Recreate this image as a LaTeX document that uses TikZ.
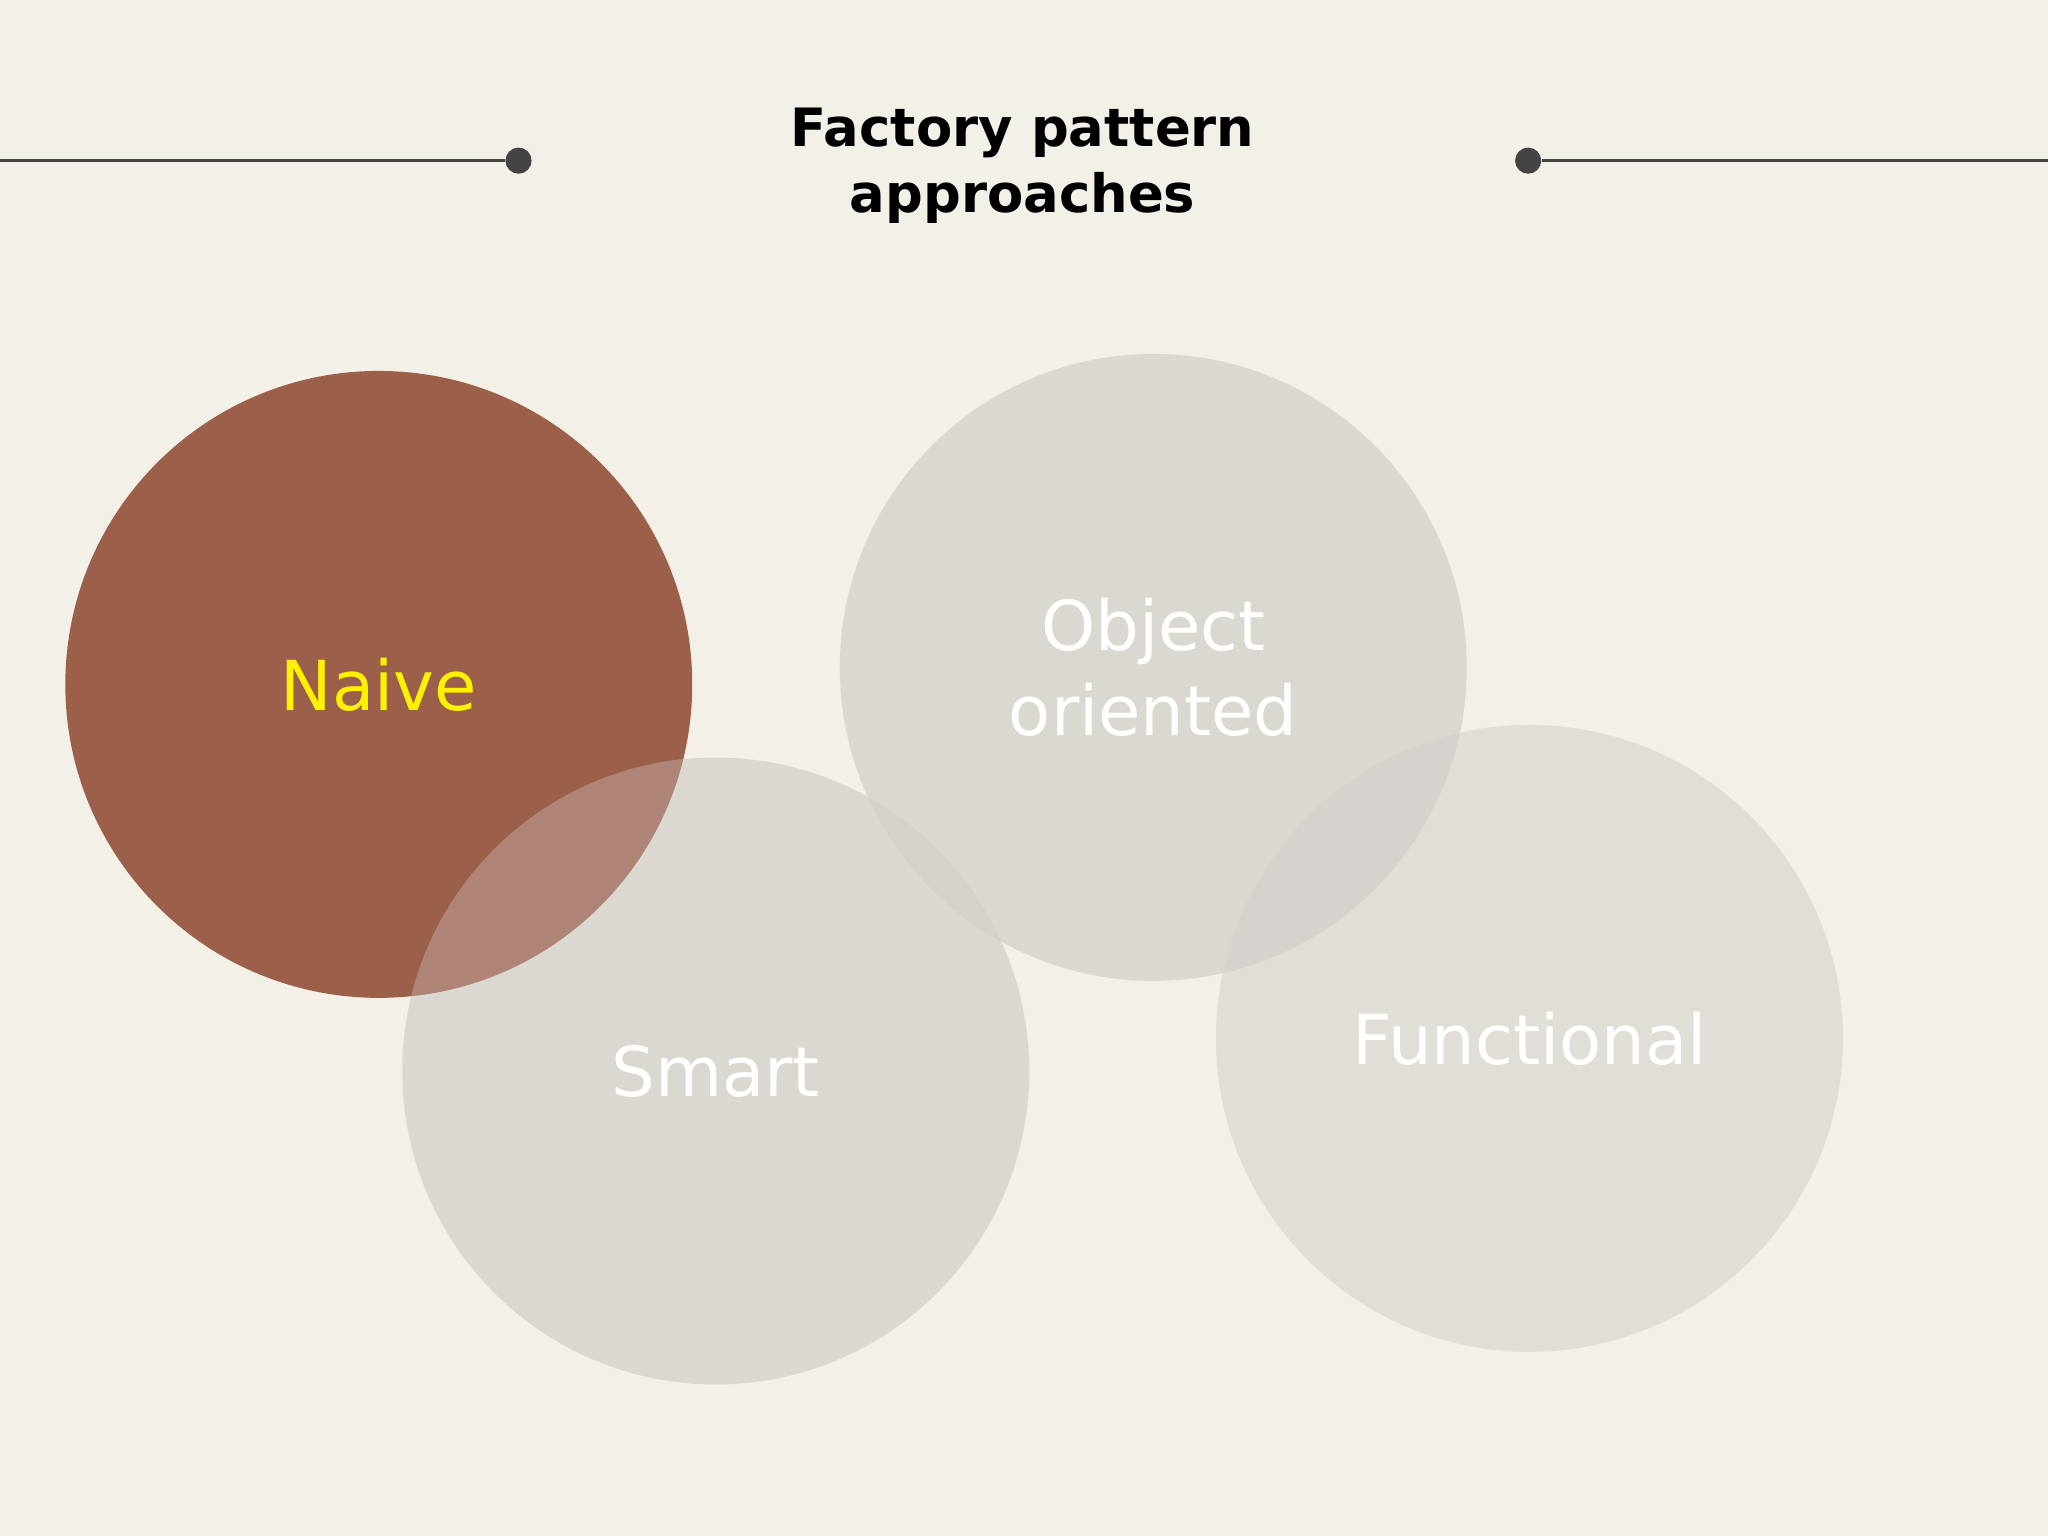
\documentclass[tikz,border=0pt]{standalone}
\usepackage{fontspec}
\setmainfont{DejaVu Sans}
\definecolor{bg}{HTML}{F3F0E8}
\definecolor{rust}{HTML}{9B5F4A}
\definecolor{cg}{HTML}{D3D0CB}
\definecolor{ln}{HTML}{444444}
\begin{document}
\begin{tikzpicture}[x=0.01cm,y=-0.01cm,
  circ/.style={circle,minimum size=480*0.01cm,inner sep=0pt},
  lbl/.style={font=\fontsize{15}{18.5}\selectfont,align=center,text=white},
  dotn/.style={circle,fill=ln,minimum size=0.2cm,inner sep=0pt}]
\fill[bg] (0,0) rectangle (1568,1176);
\useasboundingbox (0,0) rectangle (1568,1176);
\node[circ,fill=rust] (naive) at (290,524) {};
\node[circ,fill=cg,fill opacity=0.75] (oo) at (883,511) {};
\node[circ,fill=cg,fill opacity=0.75] (smart) at (548,820) {};
\node[circ,fill=cg,fill opacity=0.55] (func) at (1171,795) {};
\begin{scope}
\clip (290,524) circle (240);
\fill[rust,opacity=0.55] (548,820) circle (240);
\end{scope}
\node[lbl,text=yellow] at (naive) {Naive};
\node[lbl] at (oo) {Object\\oriented};
\node[lbl] at (smart) {Smart};
\node[lbl] at (func) {Functional};
\node[font=\bfseries\fontsize{11.5}{14.5}\selectfont,align=center] (title) at (783,127) {Factory pattern\\approaches};
\node[dotn] (d1) at (397,123) {};
\node[dotn] (d2) at (1170,123) {};
\coordinate (l1) at (0,123);
\coordinate (l2) at (1568,123);
\draw[ln,line width=0.6pt] (l1) -- (d1);
\draw[ln,line width=0.6pt] (d2) -- (l2);
\end{tikzpicture}
\end{document}
